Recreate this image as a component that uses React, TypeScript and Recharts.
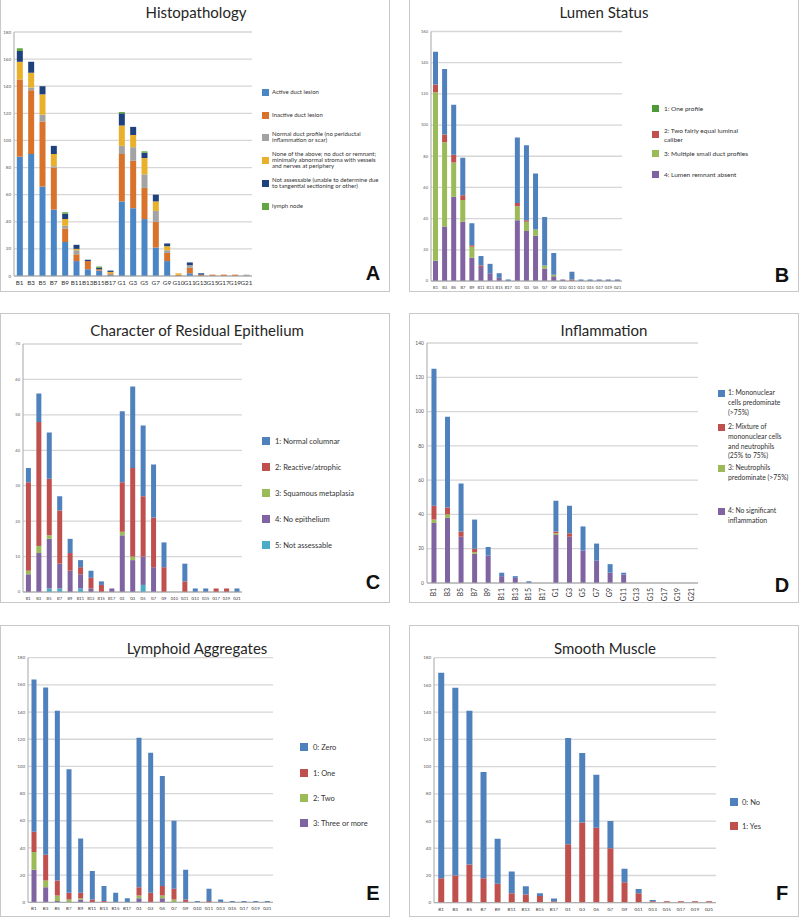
import { BarChart, Bar, XAxis, YAxis, CartesianGrid } from "recharts"

// categories
const catsFull = ["B1", "B3", "B5", "B7", "B9", "B11", "B13", "B15", "B17", "G1", "G3", "G5", "G7", "G9", "G10", "G11", "G13", "G15", "G17", "G19", "G21"]
const catsNoG10 = catsFull.filter((c) => c !== "G10")

// A: Histopathology (21 cats)
const histoActive = [88, 90, 66, 49, 25, 11, 5, 4, 1, 55, 50, 42, 21, 11, 0, 2, 0, 0, 0, 0, 0]
const histoInactive = [57, 47, 48, 31, 10, 5, 6, 1, 1, 35, 35, 23, 19, 6, 1, 4, 1, 1, 1, 1, 0]
const histoNormal = [0, 2, 5, 1, 2, 3, 0, 0, 0, 6, 10, 10, 8, 2, 0, 2, 0, 0, 0, 0, 1]
const histoNone = [13, 11, 15, 9, 5, 1, 0, 0, 1, 15, 9, 12, 7, 3, 1, 0, 0, 0, 0, 0, 0]
const histoNotAssess = [8, 8, 6, 6, 4, 3, 1, 1, 1, 9, 6, 4, 5, 2, 0, 2, 1, 0, 0, 0, 0]
const histoLymph = [2, 0, 0, 0, 1, 0, 0, 1, 0, 1, 0, 1, 0, 0, 0, 0, 0, 0, 0, 0, 0]

// B: Lumen status (21 cats)
const lumenAbsent = [13, 35, 54, 38, 15, 9, 5, 2, 0, 39, 32, 29, 8, 3, 1, 0, 0, 0, 0, 0, 0]
const lumenMultiple = [108, 54, 22, 14, 7, 0, 0, 0, 0, 9, 6, 4, 2, 1, 0, 0, 0, 0, 0, 0, 0]
const lumenTwo = [5, 5, 5, 3, 1, 1, 0, 0, 0, 2, 1, 0, 0, 0, 0, 1, 0, 0, 0, 0, 0]
const lumenOther = [21, 42, 32, 24, 14, 6, 6, 3, 1, 42, 48, 36, 31, 14, 0, 5, 1, 1, 1, 1, 1]

// C: Residual epithelium (21 cats)
const epiNotAssess = [0, 0, 1, 1, 0, 1, 0, 0, 0, 0, 0, 2, 0, 0, 0, 0, 0, 0, 0, 0, 0]
const epiNone = [5, 11, 14, 7, 6, 4, 1, 0, 1, 16, 9, 8, 7, 0, 0, 0, 0, 0, 0, 0, 0]
const epiSquamous = [1, 2, 1, 0, 0, 0, 0, 0, 0, 1, 1, 0, 0, 0, 0, 0, 0, 0, 0, 0, 0]
const epiReactive = [25, 35, 16, 15, 5, 2, 3, 2, 0, 14, 25, 17, 14, 7, 0, 3, 0, 0, 1, 1, 0]
const epiNormal = [4, 8, 13, 4, 4, 2, 2, 1, 0, 20, 23, 20, 15, 7, 0, 5, 1, 1, 0, 0, 1]

// D: Inflammation (20 cats)
const inflNone = [35, 38, 27, 17, 16, 4, 3, 0, 0, 28, 27, 19, 13, 6, 5, 0, 0, 0, 0, 0]
const inflNeut = [2, 2, 0, 1, 0, 0, 0, 0, 0, 1, 0, 0, 0, 0, 0, 0, 0, 0, 0, 0]
const inflMixture = [8, 4, 3, 2, 0, 0, 0, 0, 0, 1, 2, 0, 0, 0, 0, 0, 0, 0, 0, 0]
const inflMono = [80, 53, 28, 17, 5, 2, 1, 1, 0, 18, 16, 14, 10, 5, 1, 0, 0, 0, 0, 0]

// E: Lymphoid aggregates (21 cats)
const lymphThree = [24, 11, 1, 0, 2, 0, 0, 0, 0, 3, 0, 3, 0, 0, 0, 0, 0, 0, 0, 0, 0]
const lymphTwo = [13, 5, 4, 2, 1, 0, 0, 0, 0, 2, 0, 2, 2, 0, 0, 0, 0, 0, 0, 0, 0]
const lymphOne = [15, 19, 11, 5, 4, 2, 1, 0, 0, 6, 7, 7, 8, 2, 0, 1, 0, 0, 0, 0, 0]
const lymphZero = [112, 123, 125, 91, 40, 21, 11, 7, 3, 110, 103, 81, 50, 22, 1, 9, 2, 1, 1, 1, 1]

// F: Smooth muscle (20 cats)
const muscleYes = [18, 20, 28, 18, 14, 7, 6, 5, 1, 43, 59, 55, 40, 15, 7, 1, 1, 1, 1, 1]
const muscleNo = [151, 138, 113, 78, 33, 16, 6, 2, 2, 78, 51, 39, 20, 10, 3, 1, 0, 0, 0, 0]

const BLUE = "#4f81bd"
const RED = "#c0504d"
const GREEN = "#9bbb59"
const PURPLE = "#8064a2"
const CYAN = "#4bacc6"

interface SeriesDef { key: string; values: number[]; color: string }
interface LegendItem { color: string; lines: string[]; y: number }

interface PanelProps {
  left: number; top: number; width: number; height: number; noTopBorder?: boolean
  title: string; titleX: number; titleY: number
  letter: string; letterY: number
  cats: string[]; series: SeriesDef[]
  plot: [number, number, number, number]
  yMax: number; yStep: number; yFont: number
  xFont: number; xHeight: number; rotateX?: boolean
  gap: string
  legend: LegendItem[]; swatchX: number; textX: number; legendFont: number; lineH: number; swatch: number; swatchFirstLine?: boolean
}

function VerticalTick(props: any) {
  const { x, y, payload } = props
  return (
    <g transform={`translate(${x},${y})`}>
      <text transform="rotate(-90)" textAnchor="end" dy="0.35em" fontSize={7} fill="#333">{payload.value}</text>
    </g>
  )
}

function Panel(p: PanelProps) {
  const [pl, pt, pr, pb] = p.plot
  const rows = p.cats.map((name, i) => {
    const row: Record<string, string | number> = { name }
    p.series.forEach((s) => { row[s.key] = s.values[i] })
    return row
  })
  const ticks: number[] = []
  for (let v = 0; v <= p.yMax; v += p.yStep) ticks.push(v)

  return (
    <div style={{ position: "absolute", left: p.left, top: p.top, width: p.width, height: p.height }}>
      <div style={{ position: "absolute", inset: 0, border: "1.5px solid #c8c8c8", borderTop: p.noTopBorder ? "none" : "1.5px solid #c8c8c8", boxSizing: "border-box" }} />
      <div style={{ position: "absolute", left: p.titleX - 150, width: 300, top: p.titleY - 10, height: 20, lineHeight: "20px", textAlign: "center", fontSize: 15, color: "#262626" }}>{p.title}</div>
      <div style={{ position: "absolute", left: 0, top: 0 }}>
        <BarChart width={p.width} height={p.height} data={rows} barCategoryGap={p.gap}
          margin={{ top: pt, right: p.width - pr, bottom: p.height - pb - p.xHeight, left: 0 }}>
          <CartesianGrid vertical={false} stroke="#d6d6d6" strokeWidth={1.3} />
          <XAxis dataKey="name" interval={0} height={p.xHeight} tickLine={false} axisLine={{ stroke: "#a6a6a6" }}
            tickSize={3} tickMargin={2}
            tick={p.rotateX ? <VerticalTick /> : { fontSize: p.xFont, fill: "#333" }} />
          <YAxis width={pl} domain={[0, p.yMax]} ticks={ticks} allowDataOverflow tickLine={false}
            axisLine={{ stroke: "#a6a6a6" }} tickSize={2} tickMargin={1}
            tick={{ fontSize: p.yFont, fill: "#595959" }} />
          {p.series.map((s) => (
            <Bar key={s.key} dataKey={s.key} stackId="a" fill={s.color} isAnimationActive={false} />
          ))}
        </BarChart>
      </div>
      {p.legend.map((it, i) => {
        const n = it.lines.length
        const swCenter = p.swatchFirstLine ? it.y : it.y + ((n - 1) * p.lineH) / 2
        return (
          <div key={i}>
            <div style={{ position: "absolute", left: p.swatchX, top: swCenter - p.swatch / 2, width: p.swatch, height: p.swatch, background: it.color }} />
            <div style={{ position: "absolute", left: p.textX, top: it.y - p.lineH / 2, fontSize: p.legendFont, lineHeight: `${p.lineH}px`, color: "#333", whiteSpace: "nowrap" }}>
              {it.lines.map((l, j) => <div key={j}>{l}</div>)}
            </div>
          </div>
        )
      })}
      <div style={{ position: "absolute", left: 373 - 15, width: 30, top: p.letterY - 12, height: 24, lineHeight: "24px", textAlign: "center", fontSize: 20, fontWeight: 700, fontFamily: "'Liberation Sans', Arial, sans-serif", color: "#111" }}>{p.letter}</div>
    </div>
  )
}

export default function App() {
  return (
    <div style={{ position: "absolute", left: 0, top: 0, width: 800, height: 917, background: "#fff", overflow: "hidden", fontFamily: "Lato, 'Open Sans', sans-serif" }}>
      <Panel left={0} top={0} width={390} height={292} noTopBorder
        title="Histopathology" titleX={196} titleY={12} letter="A" letterY={273}
        cats={catsFull}
        series={[
          { key: "active", values: histoActive, color: "#4a86c6" },
          { key: "inactive", values: histoInactive, color: "#d9722b" },
          { key: "normal", values: histoNormal, color: "#a3a3a3" },
          { key: "none", values: histoNone, color: "#e9b12b" },
          { key: "notAssess", values: histoNotAssess, color: "#1f427f" },
          { key: "lymph", values: histoLymph, color: "#63a744" },
        ]}
        plot={[14, 32, 252, 276]} yMax={180} yStep={20} yFont={4.5} xFont={6.3} xHeight={14} gap="25%"
        swatchX={262} textX={272} legendFont={6} lineH={6} swatch={7}
        legend={[
          { color: "#4a86c6", lines: ["Active duct lesion"], y: 92 },
          { color: "#d9722b", lines: ["Inactive duct lesion"], y: 115 },
          { color: "#a3a3a3", lines: ["Normal duct profile (no periductal", "inflammation or scar)"], y: 134 },
          { color: "#e9b12b", lines: ["None of the above; no duct or remnant;", "minimally abnormal stroma with vessels", "and nerves at periphery"], y: 154 },
          { color: "#1f427f", lines: ["Not assessable (unable to determine due", "to tangential sectioning or other)"], y: 180 },
          { color: "#63a744", lines: ["lymph node"], y: 206 },
        ]} />

      <Panel left={409} top={0} width={390} height={292} noTopBorder
        title="Lumen Status" titleX={195} titleY={12} letter="B" letterY={275}
        cats={catsFull}
        series={[
          { key: "absent", values: lumenAbsent, color: PURPLE },
          { key: "multiple", values: lumenMultiple, color: GREEN },
          { key: "two", values: lumenTwo, color: RED },
          { key: "other", values: lumenOther, color: BLUE },
        ]}
        plot={[22, 31.5, 213, 281]} yMax={160} yStep={20} yFont={4} xFont={4} xHeight={10} gap="22%"
        swatchX={243} textX={255} legendFont={6.5} lineH={9} swatch={7}
        legend={[
          { color: "#4f9a38", lines: ["1: One profile"], y: 108 },
          { color: RED, lines: ["2: Two fairly equal luminal", "caliber"], y: 130 },
          { color: GREEN, lines: ["3: Multiple small duct profiles"], y: 153 },
          { color: PURPLE, lines: ["4: Lumen remnant absent"], y: 174 },
        ]} />

      <Panel left={0} top={313} width={390} height={290}
        title="Character of Residual Epithelium" titleX={197} titleY={17} letter="C" letterY={269}
        cats={catsFull}
        series={[
          { key: "notAssess", values: epiNotAssess, color: CYAN },
          { key: "none", values: epiNone, color: PURPLE },
          { key: "squamous", values: epiSquamous, color: GREEN },
          { key: "reactive", values: epiReactive, color: RED },
          { key: "normal", values: epiNormal, color: BLUE },
        ]}
        plot={[23, 31, 242, 279]} yMax={70} yStep={10} yFont={4} xFont={4} xHeight={10} gap="28%"
        swatchX={262} textX={275} legendFont={7.5} lineH={9} swatch={8}
        legend={[
          { color: BLUE, lines: ["1: Normal columnar"], y: 128 },
          { color: RED, lines: ["2: Reactive/atrophic"], y: 154 },
          { color: GREEN, lines: ["3: Squamous metaplasia"], y: 180 },
          { color: PURPLE, lines: ["4: No epithelium"], y: 206 },
          { color: CYAN, lines: ["5: Not assessable"], y: 232 },
        ]} />

      <Panel left={409} top={313} width={390} height={290}
        title="Inflammation" titleX={195} titleY={17} letter="D" letterY={272}
        cats={catsNoG10}
        series={[
          { key: "none", values: inflNone, color: PURPLE },
          { key: "neut", values: inflNeut, color: GREEN },
          { key: "mixture", values: inflMixture, color: RED },
          { key: "mono", values: inflMono, color: BLUE },
        ]}
        plot={[18, 30, 289, 270]} yMax={140} yStep={20} yFont={5} xFont={7} xHeight={20} rotateX gap="33%"
        swatchX={309} textX={319} legendFont={6.8} lineH={9.7} swatch={7} swatchFirstLine
        legend={[
          { color: BLUE, lines: ["1: Mononuclear", "cells predominate", "(>75%)"], y: 80 },
          { color: RED, lines: ["2: Mixture of", "mononuclear cells", "and neutrophils", "(25% to 75%)"], y: 114 },
          { color: GREEN, lines: ["3: Neutrophils", "predominate (>75%)"], y: 155 },
          { color: PURPLE, lines: ["4: No significant", "inflammation"], y: 198 },
        ]} />

      <Panel left={0} top={625} width={390} height={292}
        title="Lymphoid Aggregates" titleX={197} titleY={23} letter="E" letterY={268}
        cats={catsFull}
        series={[
          { key: "three", values: lymphThree, color: PURPLE },
          { key: "two", values: lymphTwo, color: GREEN },
          { key: "one", values: lymphOne, color: RED },
          { key: "zero", values: lymphZero, color: BLUE },
        ]}
        plot={[28, 32.7, 273, 277.3]} yMax={180} yStep={20} yFont={4.5} xFont={4.5} xHeight={10} gap="30%"
        swatchX={300} textX={313} legendFont={7.5} lineH={9} swatch={8}
        legend={[
          { color: BLUE, lines: ["0: Zero"], y: 122 },
          { color: RED, lines: ["1: One"], y: 148 },
          { color: GREEN, lines: ["2: Two"], y: 173 },
          { color: PURPLE, lines: ["3: Three or more"], y: 198 },
        ]} />

      <Panel left={409} top={625} width={390} height={292}
        title="Smooth Muscle" titleX={196} titleY={23} letter="F" letterY={268}
        cats={catsNoG10}
        series={[
          { key: "yes", values: muscleYes, color: RED },
          { key: "no", values: muscleNo, color: BLUE },
        ]}
        plot={[25, 32.7, 307, 277.7]} yMax={180} yStep={20} yFont={4.5} xFont={4.5} xHeight={10} gap="30%"
        swatchX={321} textX={333} legendFont={7.5} lineH={9} swatch={8}
        legend={[
          { color: BLUE, lines: ["0: No"], y: 177 },
          { color: RED, lines: ["1: Yes"], y: 201 },
        ]} />
    </div>
  )
}
